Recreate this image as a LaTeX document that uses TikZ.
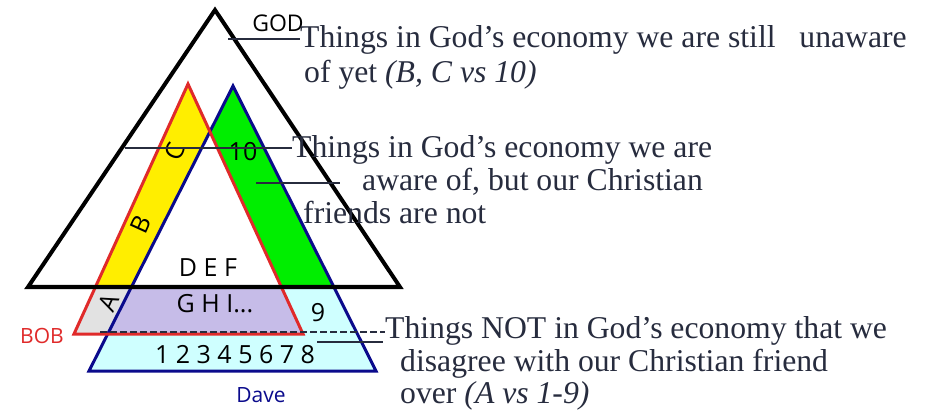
\documentclass[tikz,border=0pt]{standalone}
\usepackage{fontspec}
\setmainfont{Liberation Serif}
\newfontfamily\labelfont{Open Sans}
\usetikzlibrary{positioning}
\definecolor{ink}{HTML}{272C3E}
\definecolor{bobred}{HTML}{E02A2A}
\definecolor{davenavy}{HTML}{0A0A8C}
\definecolor{bandyellow}{HTML}{FFEE00}
\definecolor{bandgreen}{HTML}{00EE00}
\definecolor{lavender}{HTML}{C6BCE8}
\definecolor{greyA}{HTML}{E2E2E2}
\definecolor{paleblue}{HTML}{CFFFFF}
\tikzset{
  lbl/.style    = {font=\labelfont\fontsize{25}{28}\selectfont, inner sep=0pt},
  note/.style   = {font=\fontsize{31.7}{36}\selectfont, text=ink, anchor=base west, inner sep=0pt},
  leader/.style = {draw=ink, line width=1.6pt},
  godtri/.style = {draw=black, line width=4pt, line join=miter},
  bobtri/.style = {draw=bobred, line width=3pt, line join=miter},
  davetri/.style= {draw=davenavy, line width=3pt, line join=miter},
}
\begin{document}
\begin{tikzpicture}[x=1pt, y=-1pt]
  \useasboundingbox[fill=white] (0,0) rectangle (925,411);

  % corners of the three triangles
  \coordinate (G1) at (28,287);  \coordinate (G2) at (215,10);  \coordinate (G3) at (400,287);
  \coordinate (R1) at (74,334);  \coordinate (R2) at (188,84);  \coordinate (R3) at (303,334);
  \coordinate (D1) at (89,371);  \coordinate (D2) at (233,86);  \coordinate (D3) at (376,371);

  % fills
  \fill[paleblue] (D1) -- (D2) -- (D3) -- cycle;
  \fill[greyA] (R1) -- (R2) -- (R3) -- cycle;
  \begin{scope}
    \clip (R1) -- (R2) -- (R3) -- cycle;
    \fill[lavender] (D1) -- (D2) -- (D3) -- cycle;
  \end{scope}
  \begin{scope}
    \clip (0,0) rectangle (925,287);
    \fill[bandyellow] (R1) -- (R2) -- (R3) -- cycle;
    \fill[bandgreen] (D1) -- (D2) -- (D3) -- cycle;
    \clip (R1) -- (R2) -- (R3) -- cycle;
    \fill[white] (D1) -- (D2) -- (D3) -- cycle;
  \end{scope}

  % outlines
  \draw[davetri] (D1) -- (D2) -- (D3) -- cycle;
  \draw[bobtri] (R1) -- (R2) -- (R3) -- cycle;
  \draw[godtri] (G1) -- (G2) -- (G3) -- cycle;

  % labels inside
  \node[lbl, font=\labelfont\fontsize{23}{26}\selectfont] (god) at (278,23) {GOD};
  \node[lbl, rotate=65.5] (labC) at (175,152) {C};
  \node[lbl, rotate=65.5] (labB) at (141,224) {B};
  \node[lbl, rotate=65.5] (labA) at (109,303) {A};
  \node[lbl] (lab10) at (243,152) {10};
  \node[lbl] (def) at (208,268) {D E F};
  \node[lbl] (ghi) at (215,304) {G H I...};
  \node[lbl] (lab9) at (318,313) {9};
  \node[lbl] (nums) at (235,355) {1 2 3 4 5 6 7 8};
  \node[lbl, text=bobred, font=\labelfont\fontsize{21}{24}\selectfont] (bob) at (42,336) {BOB};
  \node[lbl, text=davenavy, font=\labelfont\fontsize{21}{24}\selectfont] (dave) at (261,395) {Dave};

  % notes
  \node[note] (t1a) at (300,48) {Things in God’s economy we are still\ \ \ unaware};
  \node[note] (t1b) at (304,83) {of yet \textit{(B, C vs 10)}};
  \node[note] (t2a) at (292,158) {Things in God’s economy we are};
  \node[note] (t2b) at (362,191) {aware of, but our Christian};
  \node[note] (t2c) at (303,224) {friends are not};
  \node[note] (t3a) at (385,338) {Things NOT in God’s economy that we};
  \node[note] (t3b) at (400,371) {disagree with our Christian friend};
  \node[note] (t3c) at (400,403) {over \textit{(A vs 1-9)}};

  % leaders
  \coordinate (ld1) at (228,39);
  \coordinate (ld2) at (125,148);
  \coordinate (ld3a) at (256,183);
  \coordinate (ld3b) at (340,183);
  \coordinate (ld4) at (100,332);
  \coordinate (ld5a) at (317,342);
  \coordinate (ld5b) at (383,342);
  \draw[leader] (ld1) -- (ld1 -| t1a.west);
  \draw[leader] (ld2) -- (ld2 -| t2a.west);
  \draw[leader] (ld3a) -- (ld3b);
  \draw[leader, line width=1.3pt, dash pattern=on 7pt off 3pt] (ld4) -- (ld4 -| t3a.west);
  \draw[leader] (ld5a) -- (ld5b);
\end{tikzpicture}
\end{document}
